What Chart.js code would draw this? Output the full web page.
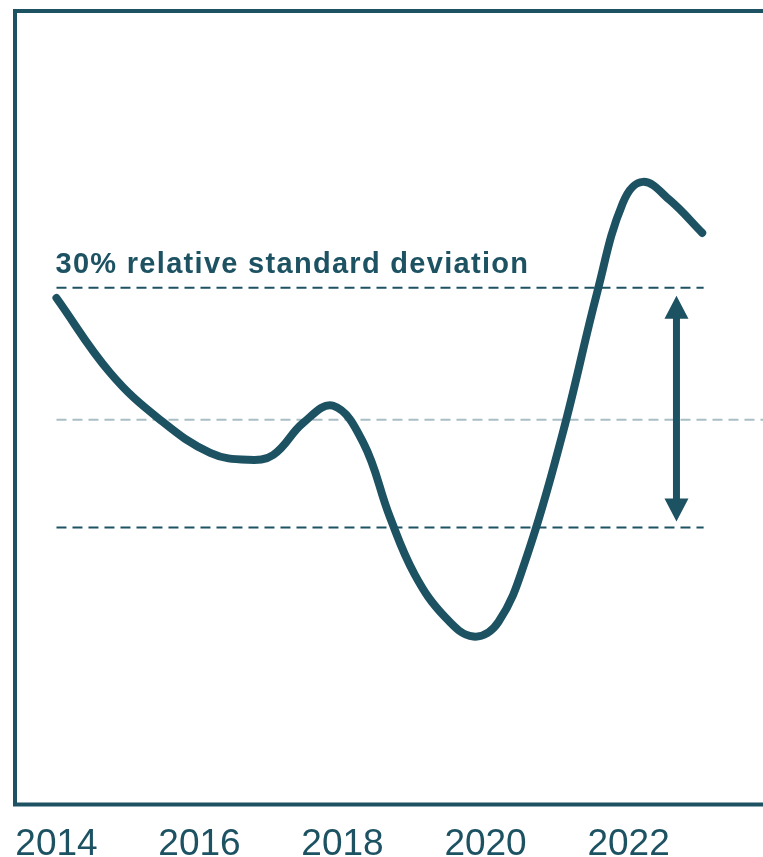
<!DOCTYPE html>
<html lang="en">
<head>
  <meta charset="UTF-8">
  <title>Relative standard deviation</title>
  <style>
    body {
      margin: 0;
      padding: 0;
      background: #fff;
    }

    /* Chart wrapper fills the window */
    .chart-box {
      position: relative;
      width: 763px;
      height: 857px;
    }
  </style>
</head>
<body>
  <div class="chart-box">
    <canvas id="rsdChart"></canvas>
  </div>

  <script src="https://cdn.jsdelivr.net/npm/chart.js"></script>
  <script>
    // Index series (mean = 100)
    const years = [2014.0, 2014.75, 2015.45, 2016.15, 2016.68, 2017.03, 2017.45, 2017.87,
                   2018.29, 2018.66, 2019.01, 2019.43, 2019.83, 2020.18, 2020.58, 2021.08,
                   2021.56, 2021.92, 2022.20, 2022.58, 2023.03];
    const values = [127.7, 110.7, 100.0, 92.5, 90.9, 92.0, 99.3, 103.2,
                    94.8, 78.0, 64.8, 55.2, 50.7, 54.0, 69.1, 97.0,
                    128.9, 149.3, 154.1, 149.9, 142.5];

    const tickYears = [2014, 2016, 2018, 2020, 2022];

    // Band around the mean
    const meanValue = 100;
    const bandUpper = 130;
    const bandLower = 75.5;
    const bandStart = 2014.0;
    const bandEnd = 2023.05;
    const arrowYear = 2022.67;
    const bandLabel = '30% relative standard deviation';

    const xMin = 2013.448;
    const xMax = 2023.88;

    const dark = '#1d5263';
    const light = '#a9bfc5';

    // Frame, band label and double arrow
    const decorations = {
      id: 'decorations',
      afterDatasetsDraw(chart) {
        const { ctx, chartArea, scales: { x, y } } = chart;
        ctx.save();

        // frame (open on the right)
        ctx.strokeStyle = dark;
        ctx.lineWidth = 4;
        ctx.beginPath();
        ctx.moveTo(chart.width + 10, chartArea.top - 2);
        ctx.lineTo(chartArea.left - 2, chartArea.top - 2);
        ctx.lineTo(chartArea.left - 2, chartArea.bottom + 2);
        ctx.lineTo(chart.width + 10, chartArea.bottom + 2);
        ctx.stroke();

        // label above the upper band line
        ctx.fillStyle = dark;
        ctx.font = 'bold 29px "Liberation Sans", Arial, sans-serif';
        ctx.letterSpacing = '1.3px';
        ctx.textAlign = 'left';
        ctx.textBaseline = 'alphabetic';
        ctx.fillText(bandLabel, x.getPixelForValue(bandStart) - 1, y.getPixelForValue(bandUpper) - 15);
        ctx.letterSpacing = '0px';

        // double-headed arrow spanning the band
        const ax = x.getPixelForValue(arrowYear);
        const top = y.getPixelForValue(bandUpper) + 8;
        const bottom = y.getPixelForValue(bandLower) - 6;
        const head = 23;
        const half = 12;
        ctx.strokeStyle = dark;
        ctx.lineWidth = 7;
        ctx.beginPath();
        ctx.moveTo(ax, top + head - 2);
        ctx.lineTo(ax, bottom - head + 2);
        ctx.stroke();
        ctx.beginPath();
        ctx.moveTo(ax, top);
        ctx.lineTo(ax - half, top + head);
        ctx.lineTo(ax + half, top + head);
        ctx.closePath();
        ctx.moveTo(ax, bottom);
        ctx.lineTo(ax - half, bottom - head);
        ctx.lineTo(ax + half, bottom - head);
        ctx.closePath();
        ctx.fill();

        ctx.restore();
      }
    };

    const ctx = document.getElementById('rsdChart').getContext('2d');

    new Chart(ctx, {
      type: 'line',
      data: {
        datasets: [
          {
            label: 'Mean',
            data: [{ x: bandStart, y: meanValue }, { x: xMax, y: meanValue }],
            borderColor: light,
            borderWidth: 2,
            borderDash: [10, 6],
            pointRadius: 0,
            order: 3
          },
          {
            label: 'Upper band',
            data: [{ x: bandStart, y: bandUpper }, { x: bandEnd, y: bandUpper }],
            borderColor: dark,
            borderWidth: 2,
            borderDash: [10, 6],
            pointRadius: 0,
            order: 2
          },
          {
            label: 'Lower band',
            data: [{ x: bandStart, y: bandLower }, { x: bandEnd, y: bandLower }],
            borderColor: dark,
            borderWidth: 2,
            borderDash: [10, 6],
            pointRadius: 0,
            order: 2
          },
          {
            label: 'Index',
            data: years.map((yr, i) => ({ x: yr, y: values[i] })),
            borderColor: dark,
            borderWidth: 8,
            borderCapStyle: 'round',
            borderJoinStyle: 'round',
            tension: 0.4,
            pointRadius: 0,
            order: 1
          }
        ]
      },
      options: {
        responsive: true,
        maintainAspectRatio: false,
        animation: false,
        layout: {
          padding: { left: 17, top: 13, right: 0, bottom: -30 }
        },
        plugins: {
          legend: { display: false },
          tooltip: { enabled: false }
        },
        scales: {
          x: {
            type: 'linear',
            min: xMin,
            max: xMax,
            afterBuildTicks: (scale) => {
              scale.ticks = tickYears.map(v => ({ value: v }));
            },
            afterFit: (scale) => {
              // labels fit inside the plot width, no extra side padding
              scale.paddingLeft = 0;
              scale.paddingRight = 0;
            },
            grid: { display: false, drawTicks: false },
            border: { display: false },
            ticks: {
              padding: 20,
              color: dark,
              maxRotation: 0,
              autoSkip: false,
              font: { family: '"Liberation Sans", Arial, sans-serif', size: 37 },
              callback: (v) => String(v)
            }
          },
          y: {
            display: false,
            min: 12.95,
            max: 192.5
          }
        }
      },
      plugins: [decorations]
    });
  </script>
</body>
</html>
